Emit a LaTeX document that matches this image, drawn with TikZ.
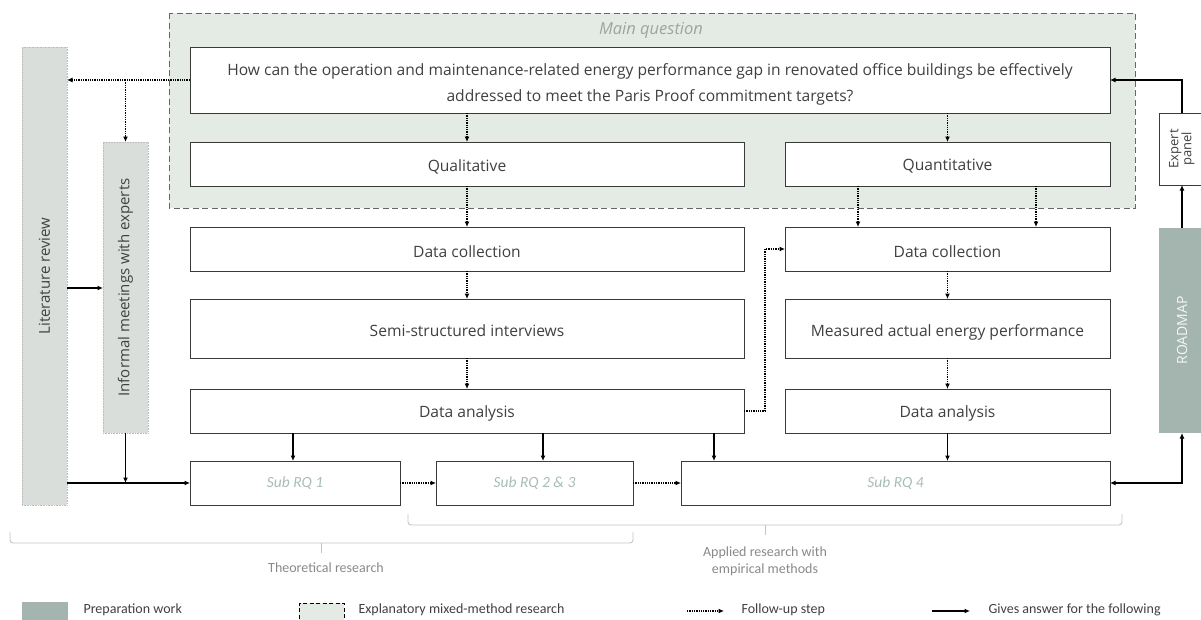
\documentclass[tikz,border=0pt]{standalone}
\usepackage{fontspec}
\setmainfont{Carlito}
\newfontfamily\osans{Open Sans}
\usetikzlibrary{arrows.meta,calc}
\newcommand{\lowtxt}[2][2.5pt]{\raisebox{-#1}[\height][\depth]{#2}}
\definecolor{mainfill}{HTML}{E4EBE4}
\definecolor{barfill}{HTML}{D9DEDB}
\definecolor{barline}{HTML}{BDBDBD}
\definecolor{roadfill}{HTML}{A3B5AE}
\definecolor{boxcol}{HTML}{3A3A3A}
\definecolor{txtcol}{HTML}{404040}
\definecolor{subcol}{HTML}{A8BDB8}
\definecolor{bracecol}{HTML}{C4C4C4}
\definecolor{lblcol}{HTML}{8A8A8A}
\definecolor{dashcol}{HTML}{666666}
\tikzset{
  box/.style={draw=boxcol, line width=1pt, fill=white, inner sep=0pt, outer sep=0pt,
    text=txtcol, font=\osans\fontsize{15.6}{26}\selectfont, align=center},
  subbox/.style={box, text=subcol, font=\fontsize{15.5}{18}\selectfont\itshape},
  bar/.style={draw=barline, densely dotted, line width=0.6pt, fill=barfill, inner sep=0pt,
    outer sep=0pt, text=txtcol, font=\osans\fontsize{15}{18}\selectfont},
  follow/.style={densely dotted, line width=1.3pt, -{Latex[length=5.5pt,width=5pt]}},
  gives/.style={line width=1.3pt, -{Latex[length=5.5pt,width=5pt]}},
  brace/.style={draw=bracecol, line width=0.9pt, rounded corners=3pt},
  lbl/.style={text=lblcol, font=\fontsize{14}{17}\selectfont, align=center},
  leg/.style={text=txtcol, font=\fontsize{14}{17}\selectfont, anchor=west}
}
\begin{document}
\begin{tikzpicture}[x=1pt,y=-1pt]
\clip (0,0) rectangle (1201,619);
\fill[white] (0,0) rectangle (1201,619);
% main dashed region
\draw[dashcol, fill=mainfill, line width=0.9pt, dash pattern=on 6pt off 3.5pt] (169,13) rectangle (1135,208);
\node[text=lblcol!80, font=\osans\fontsize{16.5}{19}\selectfont\itshape] (mqlabel) at (651,30) {Main question};
% boxes
\node[box, minimum width=920pt, minimum height=66pt] (mq) at (650,80)
  {\lowtxt[3.5pt]{\begin{tabular}{@{}c@{}}How can the operation and maintenance-related energy performance gap in renovated office buildings be effectively\\addressed to meet the Paris Proof commitment targets?\end{tabular}}};
\node[box, minimum width=554pt, minimum height=44pt] (qual) at (467,164) {\lowtxt{Qualitative}};
\node[box, minimum width=325pt, minimum height=44pt] (quant) at (947.5,164) {\lowtxt{Quantitative}};
\node[box, minimum width=554pt, minimum height=44pt] (dcl) at (467,249) {\lowtxt{Data collection}};
\node[box, minimum width=554pt, minimum height=59pt] (semi) at (467,328.5) {\lowtxt{Semi-structured interviews}};
\node[box, minimum width=554pt, minimum height=44pt] (dal) at (467,411) {\lowtxt{Data analysis}};
\node[box, minimum width=325pt, minimum height=44pt] (dcr) at (947.5,249) {\lowtxt{Data collection}};
\node[box, minimum width=325pt, minimum height=59pt] (meas) at (947.5,328.5) {\lowtxt[3.5pt]{Measured actual energy performance}};
\node[box, minimum width=325pt, minimum height=44pt] (dar) at (947.5,411) {\lowtxt{Data analysis}};
\node[subbox, minimum width=210pt, minimum height=44pt] (rq1) at (295,483) {Sub RQ 1};
\node[subbox, minimum width=197pt, minimum height=44pt] (rq23) at (534.5,483) {Sub RQ 2 \& 3};
\node[subbox, minimum width=429pt, minimum height=44pt] (rq4) at (895.5,483) {Sub RQ 4};
% side bars
\node[bar, minimum width=45pt, minimum height=458pt] (lit) at (44.5,276) {\rotatebox{90}{Literature review}};
\node[bar, minimum width=45pt, minimum height=291pt] (inf) at (125.5,287.5) {\rotatebox{90}{Informal meetings with experts}};
\node[fill=roadfill, inner sep=0pt, outer sep=0pt, minimum width=46pt, minimum height=205pt,
  text=white!88!roadfill, font=\osans\fontsize{14}{17}\selectfont] (road) at (1182,330.5) {\rotatebox{90}{ROADMAP}};
\node[box, line width=0.8pt, minimum width=46pt, minimum height=72pt, font=\osans\fontsize{13}{14}\selectfont, text=txtcol] (exp) at (1182,149)
  {\rotatebox{90}{\begin{tabular}{@{}c@{}}Expert\\[-1pt]panel\end{tabular}}};
% follow-up (dotted) connectors
\draw[follow] (mq.west) -- (mq.west -| lit.east);
\coordinate (br) at (mq.west -| inf.north);
\draw[follow] (br) -- (inf.north);
\draw[follow] (mq.south -| qual.north) -- (qual.north);
\draw[follow] (mq.south -| quant.north) -- (quant.north);
\draw[follow] (qual.south) -- (dcl.north);
\draw[follow] ([xshift=-89.5pt]quant.south) -- ([xshift=-89.5pt]dcr.north);
\draw[follow] ([xshift=88.5pt]quant.south) -- ([xshift=88.5pt]dcr.north);
\draw[follow] (dcl.south) -- (semi.north);
\draw[follow] (semi.south) -- (dal.north);
\draw[follow] (dcr.south) -- (meas.north);
\draw[follow] (meas.south) -- (dar.north);
\draw[follow] (dal.east) -- ++(21,0) |- (dcr.west);
\draw[follow] (rq1.east) -- (rq23.west);
\draw[follow] (rq23.east) -- (rq4.west);
% gives-answer (solid) connectors
\draw[gives] (lit.east |- 0,288) -- (inf.west |- 0,288);
\draw[gives] (lit.east |- rq1.west) -- (rq1.west);
\draw[gives] (inf.south) -- (inf.south |- rq1.west);
\draw[gives] ([xshift=-174pt]dal.south) -- ([xshift=-2pt]rq1.north);
\draw[gives] ([xshift=76pt]dal.south) -- ([xshift=8.5pt]rq23.north);
\draw[gives] ([xshift=247pt]dal.south) -- ([xshift=-181.5pt]rq4.north);
\draw[gives] (dar.south) -- (dar.south |- rq4.north);
\draw[line width=1.3pt, {Latex[length=5.5pt,width=5pt]}-{Latex[length=5.5pt,width=5pt]}] (rq4.east) -| (road.south);
\draw[gives] (road.north) -- (exp.south);
\draw[gives] (exp.north) |- (mq.east);
% braces
\draw[brace] (10,532) -- (10,543) -- (633,543) -- (633,532);
\draw[bracecol, line width=0.9pt] (321.5,543) -- (321.5,553);
\node[lbl] (theo) at (326,568) {Theoretical research};
\draw[brace] (408,514) -- (408,525) -- (1122,525) -- (1122,514);
\draw[bracecol, line width=0.9pt] (765,525) -- (765,535);
\node[lbl] (appl) at (765,561) {Applied research with\\empirical methods};
% legend
\node[fill=roadfill, inner sep=0pt, minimum width=46pt, minimum height=20pt] (lg1) at (45,612) {};
\node[leg] (lt1) at (80,610) {Preparation work};
\node[draw=black, dash pattern=on 4pt off 2.5pt, line width=0.8pt, fill=mainfill, inner sep=0pt, minimum width=45pt, minimum height=22pt] (lg2) at (321.5,614) {};
\node[leg] (lt2) at (355,610) {Explanatory mixed-method research};
\coordinate (lg3a) at (687,611);
\coordinate (lg3b) at (724,611);
\draw[follow] (lg3a) -- (lg3b);
\node[leg] (lt3) at (738,610) {Follow-up step};
\coordinate (lg4a) at (932,611);
\coordinate (lg4b) at (970,611);
\draw[gives] (lg4a) -- (lg4b);
\node[leg] (lt4) at (985,610) {Gives answer for the following};
\end{tikzpicture}
\end{document}
